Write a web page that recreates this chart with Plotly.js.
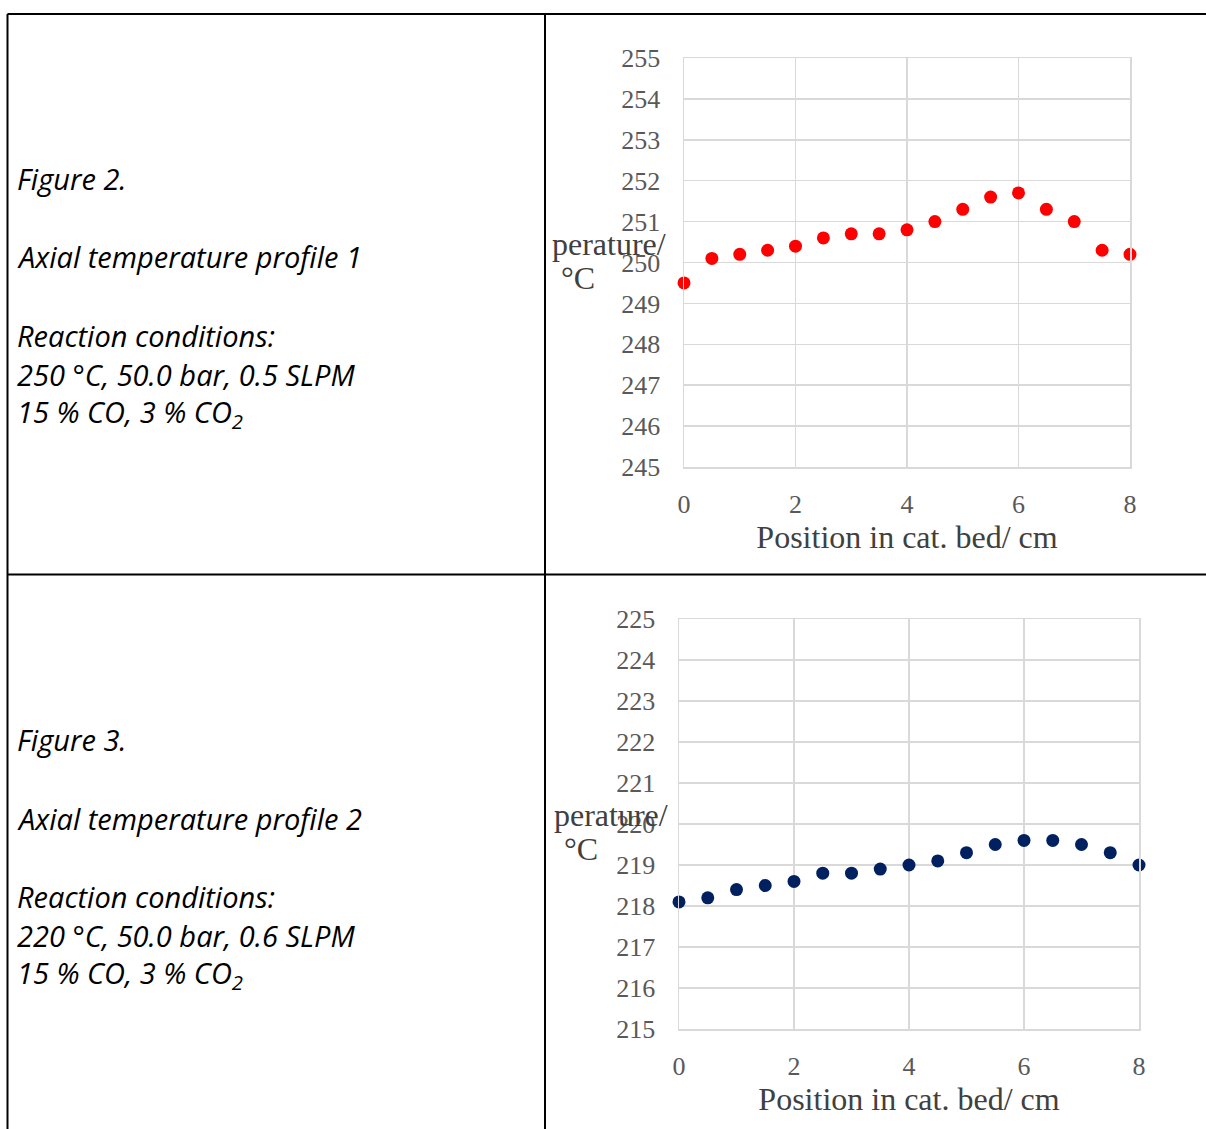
<!DOCTYPE html>
<html>
<head>
<meta charset="utf-8">
<script src="https://cdn.plot.ly/plotly-3.0.1.min.js"></script>
<style>html,body{margin:0;padding:0;background:#fff;}#chart{width:1206px;height:1129px;}</style>
</head>
<body>
<div id="chart"></div>
<script>
// Data
const positions = [0, 0.5, 1, 1.5, 2, 2.5, 3, 3.5, 4, 4.5, 5, 5.5, 6, 6.5, 7, 7.5, 8];
const tempProfile1 = [249.5, 250.1, 250.2, 250.3, 250.4, 250.6, 250.7, 250.7, 250.8, 251.0, 251.3, 251.6, 251.7, 251.3, 251.0, 250.3, 250.2];
const tempProfile2 = [218.1, 218.2, 218.4, 218.5, 218.6, 218.8, 218.8, 218.9, 219.0, 219.1, 219.3, 219.5, 219.6, 219.6, 219.5, 219.3, 219.0];
const xTicks = [0, 2, 4, 6, 8];
const yTicks1 = [245, 246, 247, 248, 249, 250, 251, 252, 253, 254, 255];
const yTicks2 = [215, 216, 217, 218, 219, 220, 221, 222, 223, 224, 225];
const xTitle = "Position in cat. bed/ cm";
const yTitleVisible = ["perature/", "°C"];
const caption1 = ["Figure 2.", "Axial temperature profile 1", "Reaction conditions:", "250 °C, 50.0 bar, 0.5 SLPM", "15 % CO, 3 % CO<sub>2</sub>"];
const caption2 = ["Figure 3.", "Axial temperature profile 2", "Reaction conditions:", "220 °C, 50.0 bar, 0.6 SLPM", "15 % CO, 3 % CO<sub>2</sub>"];

const W = 1206, H = 1129;
const px = v => v / W;
const py = v => 1 - v / H;

const SERIF = "Liberation Serif";
const tickFont = () => ({family: SERIF, size: 26, color: "#595959"});
const titleFont = () => ({family: SERIF, size: 32, color: "#404040"});
const grid = "#d9d9d9";

function xAxis(dom, anchor) {
  return {domain: dom, anchor: anchor, range: [0, 8], tickmode: "array", tickvals: xTicks, ticktext: xTicks.map(String),
    showgrid: true, gridcolor: grid, gridwidth: 1.5, zeroline: false, showline: true, mirror: true,
    linecolor: grid, linewidth: 1.5, ticks: "", tickfont: tickFont(), ticklabelstandoff: 13,
    title: {text: xTitle, font: titleFont(), standoff: 0}, fixedrange: true};
}
function yAxis(dom, anchor, ticks) {
  return {domain: dom, anchor: anchor, range: [ticks[0], ticks[ticks.length - 1]], tickmode: "array", tickvals: ticks,
    ticktext: ticks.map(String), showgrid: true, gridcolor: grid, gridwidth: 1.5, zeroline: false,
    showline: true, mirror: true, linecolor: grid, linewidth: 1.5, ticks: "", tickfont: tickFont(),
    ticklabelstandoff: 17, fixedrange: true};
}

const traces = [
  {x: positions, y: tempProfile1, xaxis: "x", yaxis: "y", type: "scatter", mode: "markers",
   marker: {color: "#ff0000", size: 13}, cliponaxis: false, hoverinfo: "x+y"},
  {x: positions, y: tempProfile2, xaxis: "x2", yaxis: "y2", type: "scatter", mode: "markers",
   marker: {color: "#002060", size: 13}, cliponaxis: false, hoverinfo: "x+y"}
];

const annotations = [];
const capFont = () => ({family: "Open Sans", size: 29, color: "#000"});
const capY1 = [179, 257, 335, 374, 413];
const capY2 = [739, 818, 896, 935, 974];
caption1.forEach((t, i) => annotations.push({xref: "paper", yref: "paper", x: px(15), y: py(capY1[i]),
  xanchor: "left", yanchor: "middle", text: "<i>" + t + "</i>", showarrow: false, font: capFont()}));
caption2.forEach((t, i) => annotations.push({xref: "paper", yref: "paper", x: px(15), y: py(capY2[i]),
  xanchor: "left", yanchor: "middle", text: "<i>" + t + "</i>", showarrow: false, font: capFont()}));
// visible (clipped) y-axis titles
[[244, 278, 609, 578], [815, 849, 611, 581]].forEach(p => {
  annotations.push({xref: "paper", yref: "paper", x: px(p[2]), y: py(p[0]), xanchor: "center", yanchor: "middle",
    text: yTitleVisible[0], showarrow: false, font: titleFont()});
  annotations.push({xref: "paper", yref: "paper", x: px(p[3]), y: py(p[1]), xanchor: "center", yanchor: "middle",
    text: yTitleVisible[1], showarrow: false, font: titleFont()});
});

const line = {color: "#000", width: 2};
const shapes = [
  {type: "line", xref: "paper", yref: "paper", x0: px(7.5), x1: 1, y0: py(14), y1: py(14), line: line},
  {type: "line", xref: "paper", yref: "paper", x0: px(7.5), x1: px(7.5), y0: py(14), y1: 0, line: line},
  {type: "line", xref: "paper", yref: "paper", x0: px(545), x1: px(545), y0: py(14), y1: 0, line: line},
  {type: "line", xref: "paper", yref: "paper", x0: px(7.5), x1: 1, y0: py(574.5), y1: py(574.5), line: line}
];

const layout = {
  width: W, height: H, margin: {l: 0, r: 0, t: 0, b: 0}, paper_bgcolor: "#fff", plot_bgcolor: "#fff",
  showlegend: false,
  font: {family: SERIF, size: 24, color: "#595959"},
  xaxis: xAxis([px(684), px(1130)], "y"),
  yaxis: yAxis([py(467), py(58)], "x", yTicks1),
  xaxis2: xAxis([px(679), px(1139)], "y2"),
  yaxis2: yAxis([py(1029), py(619)], "x2", yTicks2),
  annotations: annotations, shapes: shapes
};

Plotly.newPlot("chart", traces, layout, {displayModeBar: false, staticPlot: true});
</script>
</body>
</html>
